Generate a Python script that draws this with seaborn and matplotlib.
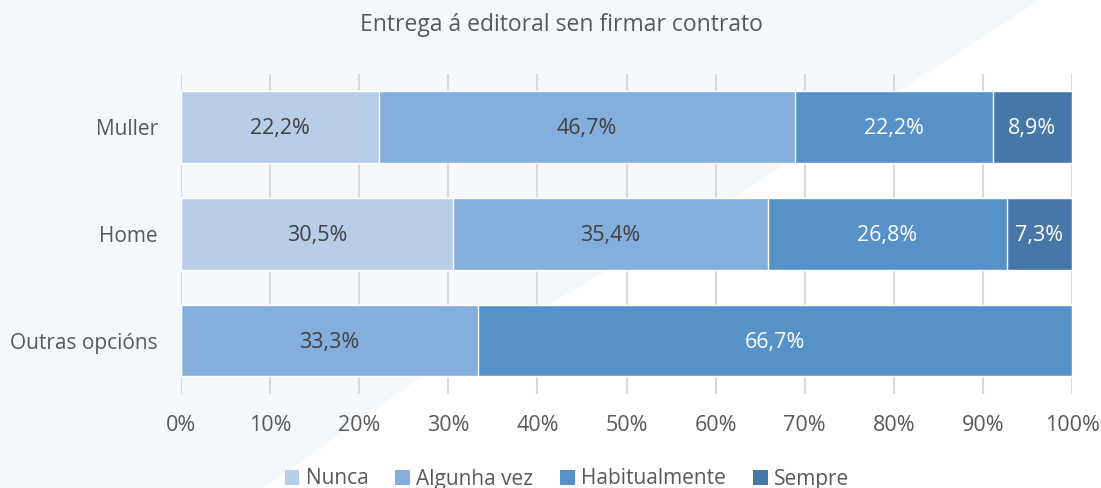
import numpy as np
import pandas as pd
import matplotlib
matplotlib.use("Agg")
import matplotlib.pyplot as plt
from matplotlib.patches import Polygon, Patch
import seaborn as sns

# Data (percent of each group)
groups = ['Muller', 'Home', 'Outras opcións']
answers = ['Nunca', 'Algunha vez', 'Habitualmente', 'Sempre']
nunca = [22.2, 30.5, 0.0]
algunha_vez = [46.7, 35.4, 33.3]
habitualmente = [22.2, 26.8, 66.7]
sempre = [8.9, 7.3, 0.0]

colors = ['#B8CDE8', '#84AEDB', '#5692C8', '#4677A8']
text_colors = ['#404040', '#404040', 'white', 'white']
grey = '#595959'

sns.set_style("white")
plt.rcParams['font.family'] = ['Open Sans', 'DejaVu Sans']

values = np.array([nunca, algunha_vez, habitualmente, sempre])
cum = values.cumsum(axis=0)
df = pd.DataFrame({'group': groups})
for i, a in enumerate(answers):
    df[a] = cum[i]

fig = plt.figure(figsize=(11.01, 4.88), dpi=100)
fig.patch.set_facecolor('white')

# light diagonal background shape, behind everything
bg = fig.add_axes([0, 0, 1, 1], zorder=-10)
bg.set_xlim(0, 1101)
bg.set_ylim(488, 0)
bg.axis('off')
pts = [(0, 0), (1040, 0), (730, 200), (417, 380), (263, 488), (0, 488)]
bg.add_patch(Polygon(pts, closed=True, facecolor='#F4F8FB', edgecolor='none'))

ax = fig.add_axes([181 / 1101, 1 - 394 / 488, (1072 - 181) / 1101, (394 - 73.5) / 488])
ax.patch.set_alpha(0)

# stacked bars: draw cumulative totals from the outermost inward
for i in reversed(range(len(answers))):
    sns.barplot(data=df, x=answers[i], y='group', orient='h', color=colors[i],
                width=0.67, saturation=1, ax=ax, zorder=3)

for j, g in enumerate(groups):
    for i in range(len(answers)):
        v = values[i, j]
        if v > 0:
            mid = cum[i, j] - v / 2
            ax.text(mid, j + 0.015, f"{v:.1f}%".replace('.', ','), ha='center', va='center',
                    fontsize=15.5, color=text_colors[i], zorder=5)

ax.set_xlim(0, 100)
ax.set_ylim(2.5, -0.5)
ax.set_xticks(np.arange(0, 101, 10))
ax.set_xticklabels([f"{t}%" for t in range(0, 101, 10)])
ax.grid(axis='x', color='#D9D9D9', linewidth=1.5, zorder=0)
ax.set_axisbelow(True)
for s in ax.spines.values():
    s.set_visible(False)
ax.tick_params(axis='both', length=0, labelcolor=grey)
ax.tick_params(axis='x', pad=15, labelsize=15.5)
ax.tick_params(axis='y', pad=16.5, labelsize=15)
ax.set_xlabel('')
ax.set_ylabel('')

fig.text(561 / 1101, 1 - 25 / 488, 'Entrega á editoral sen firmar contrato',
         ha='center', va='center', fontsize=16.5, color=grey)

handles = [Patch(facecolor=c, edgecolor='none') for c in colors]
fig.legend(handles, answers, loc='center', bbox_to_anchor=(567 / 1101, 1 - 479 / 488),
           ncol=4, frameon=False, fontsize=15, labelcolor=grey, handlelength=0.7,
           handleheight=0.7, handletextpad=0.3, columnspacing=1.3)

fig.savefig('out.png', dpi=100)
